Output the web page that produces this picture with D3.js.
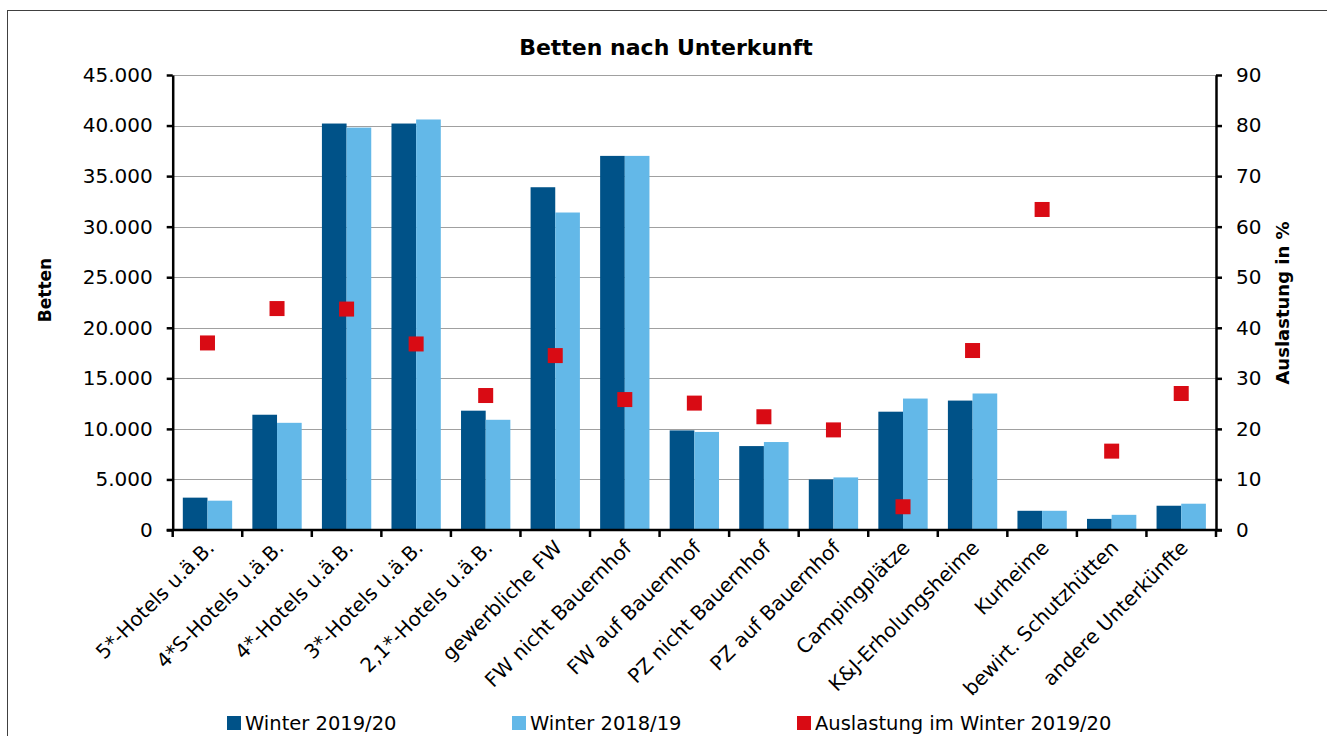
<!DOCTYPE html>
<html>
<head>
<meta charset="utf-8">
<script src="https://cdn.jsdelivr.net/npm/d3@7"></script>
<style>
  html, body { margin: 0; padding: 0; background: #fff; }
  svg { display: block; font-family: "DejaVu Sans", Verdana, sans-serif; }
</style>
</head>
<body>
<svg id="chart" width="1327" height="736"></svg>
<script>
// Unterkunftsarten
const categories = [
  "5*-Hotels u.ä.B.", "4*S-Hotels u.ä.B.", "4*-Hotels u.ä.B.", "3*-Hotels u.ä.B.",
  "2,1*-Hotels u.ä.B.", "gewerbliche FW", "FW nicht Bauernhof", "FW auf Bauernhof",
  "PZ nicht Bauernhof", "PZ auf Bauernhof", "Campingplätze", "K&J-Erholungsheime",
  "Kurheime", "bewirt. Schutzhütten", "andere Unterkünfte"
];
// Betten je Saison
const winter2020 = [3200, 11400, 40200, 40200, 11800, 33900, 37000, 9850, 8300, 5000, 11700, 12800, 1900, 1100, 2400];
const winter2019 = [2900, 10600, 39800, 40600, 10900, 31400, 37000, 9700, 8700, 5200, 13000, 13500, 1900, 1500, 2600];
// Auslastung in % (Winter 2019/20)
const auslastung = [37.0, 43.8, 43.7, 36.8, 26.6, 34.5, 25.8, 25.1, 22.4, 19.8, 4.6, 35.5, 63.4, 15.6, 27.0];

const leftTicks = [0, 5000, 10000, 15000, 20000, 25000, 30000, 35000, 40000, 45000];
const rightTicks = [0, 10, 20, 30, 40, 50, 60, 70, 80, 90];
const seriesNames = ["Winter 2019/20", "Winter 2018/19", "Auslastung im Winter 2019/20"];

const colDark = "#005288", colLight = "#63b8e8", colRed = "#d90b14";

const svg = d3.select("#chart");
const m = { left: 172.7, right: 1216, top: 75, bottom: 530 };

// outer frame
svg.append("rect").attr("x", 7.5).attr("y", 10.5).attr("width", 1340).attr("height", 760)
  .attr("fill", "none").attr("stroke", "#404040").attr("stroke-width", 1);

const x = d3.scaleBand().domain(categories).range([m.left, m.right]).paddingInner(0).paddingOuter(0);
const xs = d3.scaleBand().domain([0, 1]).range([0, x.bandwidth()]).paddingInner(0).paddingOuter(0.41);
const y = d3.scaleLinear().domain([0, 45000]).range([m.bottom, m.top]);
const y2 = d3.scaleLinear().domain([0, 90]).range([m.bottom, m.top]);

const fmt = d => d3.format(",")(d).replace(/,/g, ".");

// gridlines
svg.append("g").selectAll("line").data(leftTicks.filter(d => d > 0)).join("line")
  .attr("x1", m.left).attr("x2", m.right)
  .attr("y1", d => Math.round(y(d)) + 0.5).attr("y2", d => Math.round(y(d)) + 0.5)
  .attr("stroke", "#a0a0a0").attr("stroke-width", 1.2);

// bars
const groups = svg.append("g").selectAll("g").data(categories).join("g")
  .attr("transform", d => `translate(${x(d)},0)`);
groups.append("rect")
  .attr("x", xs(0)).attr("width", xs.bandwidth())
  .attr("y", (d, i) => y(winter2020[i])).attr("height", (d, i) => y(0) - y(winter2020[i]))
  .attr("fill", colDark);
groups.append("rect")
  .attr("x", xs(1)).attr("width", xs.bandwidth())
  .attr("y", (d, i) => y(winter2019[i])).attr("height", (d, i) => y(0) - y(winter2019[i]))
  .attr("fill", colLight);

// occupancy markers
const ms = 15;
svg.append("g").selectAll("rect").data(categories).join("rect")
  .attr("x", d => x(d) + x.bandwidth() / 2 - ms / 2)
  .attr("y", (d, i) => y2(auslastung[i]) - ms / 2)
  .attr("width", ms).attr("height", ms)
  .attr("fill", colRed);

// axes
const axisStyle = g => {
  g.select(".domain").attr("stroke", "#000").attr("stroke-width", 2.5);
  g.selectAll(".tick line").attr("stroke", "#000").attr("stroke-width", 2.5);
  g.selectAll("text").attr("fill", "#000");
};
const leftAxis = svg.append("g").attr("transform", `translate(${m.left},0)`)
  .call(d3.axisLeft(y).tickValues(leftTicks).tickFormat(fmt).tickSize(6).tickSizeOuter(0).tickPadding(14))
  .call(axisStyle);
leftAxis.selectAll("text").attr("font-size", 20).attr("font-family", "DejaVu Sans");

const rightAxis = svg.append("g").attr("transform", `translate(${m.right},0)`)
  .call(d3.axisRight(y2).tickValues(rightTicks).tickSize(6).tickSizeOuter(0).tickPadding(14))
  .call(axisStyle);
rightAxis.selectAll("text").attr("font-size", 20).attr("font-family", "DejaVu Sans");

// bottom axis: ticks at category boundaries
const bounds = categories.map(c => x(c)).concat([m.right]);
const bottom = svg.append("g");
bottom.append("line").attr("x1", m.left - 6).attr("x2", m.right + 6)
  .attr("y1", m.bottom).attr("y2", m.bottom).attr("stroke", "#000").attr("stroke-width", 2.5);
bottom.selectAll("line.tk").data(bounds).join("line").attr("class", "tk")
  .attr("x1", d => d).attr("x2", d => d).attr("y1", m.bottom).attr("y2", m.bottom + 7)
  .attr("stroke", "#000").attr("stroke-width", 2.5);
bottom.selectAll("text").data(categories).join("text")
  .attr("transform", d => `translate(${x(d) + x.bandwidth() / 2 + 8},${m.bottom + 19}) rotate(-45)`)
  .attr("text-anchor", "end").attr("font-size", 20).attr("fill", "#000")
  .text(d => d);

// title and axis titles
svg.append("text").attr("x", 666).attr("y", 55).attr("text-anchor", "middle")
  .attr("font-size", 22).attr("font-weight", "bold").text("Betten nach Unterkunft");
svg.append("text").attr("transform", "translate(51,290) rotate(-90)").attr("text-anchor", "middle")
  .attr("font-size", 17).attr("font-weight", "bold").text("Betten");
svg.append("text").attr("transform", "translate(1289,303) rotate(-90)").attr("text-anchor", "middle")
  .attr("font-size", 18).attr("font-weight", "bold").text("Auslastung in %");

// legend
const legendX = [227, 512, 797];
const legendCol = [colDark, colLight, colRed];
const leg = svg.append("g").selectAll("g").data(seriesNames).join("g")
  .attr("transform", (d, i) => `translate(${legendX[i]},716)`);
leg.append("rect").attr("width", 14).attr("height", 14).attr("fill", (d, i) => legendCol[i]);
leg.append("text").attr("x", 18).attr("y", 13.5).attr("font-size", 19.5).attr("fill", "#000").text(d => d);
</script>
</body>
</html>
